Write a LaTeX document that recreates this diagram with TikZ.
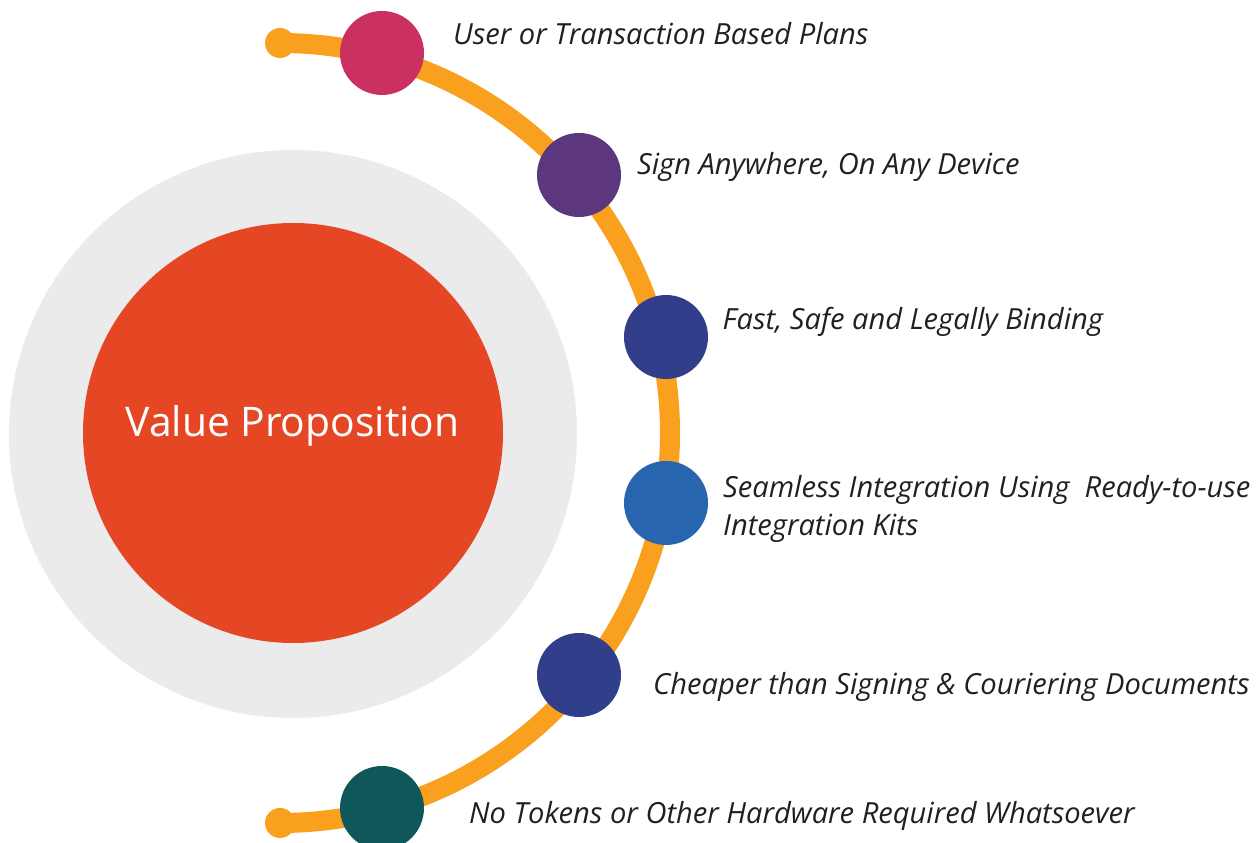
\documentclass[tikz,border=0pt]{standalone}
\usepackage{fontspec}
\setmainfont{Open Sans}
\definecolor{greyc}{HTML}{EBEBEB}
\definecolor{redc}{HTML}{E54725}
\definecolor{arcc}{HTML}{F9A11F}
\definecolor{pinkc}{HTML}{CB3160}
\definecolor{purplec}{HTML}{5C377D}
\definecolor{navyc}{HTML}{313E8A}
\definecolor{bluec}{HTML}{2766AE}
\definecolor{tealc}{HTML}{10575A}
\definecolor{textc}{HTML}{231F20}
\begin{document}
\begin{tikzpicture}[x=1pt,y=1pt,
  dot/.style={circle,inner sep=0pt,minimum size=84pt},
  enddot/.style={circle,inner sep=0pt,minimum size=30pt,fill=arcc},
  arcline/.style={draw=arcc,line width=20pt},
  lbl/.style={anchor=base west,inner sep=0pt,text=textc,font=\fontsize{29.1}{38}\selectfont\itshape},
]
\useasboundingbox (0,0) rectangle (1259,843);
\node[circle,fill=greyc,inner sep=0pt,minimum size=568pt] (outer) at (293,409) {};
\node[circle,fill=redc,inner sep=0pt,minimum size=420pt] (inner) at (293,410) {};
\node[anchor=base,inner sep=0pt,text=white,font=\fontsize{40.8}{48}\selectfont] (title) at (292.5,406.5) {Value Proposition};
\node[enddot] (topend) at (280,800) {};
\node[enddot] (botend) at (280,20) {};
\draw[arcline] (topend.center) arc[start angle=90,end angle=-90,radius=390];
\node[dot,fill=pinkc] (d1) at (382,790) {};
\node[dot,fill=purplec] (d2) at (579,668) {};
\node[dot,fill=navyc] (d3) at (666,506) {};
\node[dot,fill=bluec] (d4) at (666,340) {};
\node[dot,fill=navyc] (d5) at (579,168) {};
\node[dot,fill=tealc] (d6) at (382,35) {};
\node[lbl] (l1) at (453,798.7) {User or Transaction Based Plans};
\node[lbl] (l2) at (637,668) {Sign Anywhere, On Any Device};
\node[lbl] (l3) at (722.5,513.7) {Fast, Safe and Legally Binding};
\node[lbl] (l4a) at (723,345) {Seamless Integration Using\ \ Ready-to-use};
\node[lbl] (l4b) at (723,307) {Integration Kits};
\node[lbl] (l5) at (653,148) {Cheaper than Signing \& Couriering Documents};
\node[lbl] (l6) at (469,19) {No Tokens or Other Hardware Required Whatsoever};
\end{tikzpicture}
\end{document}
